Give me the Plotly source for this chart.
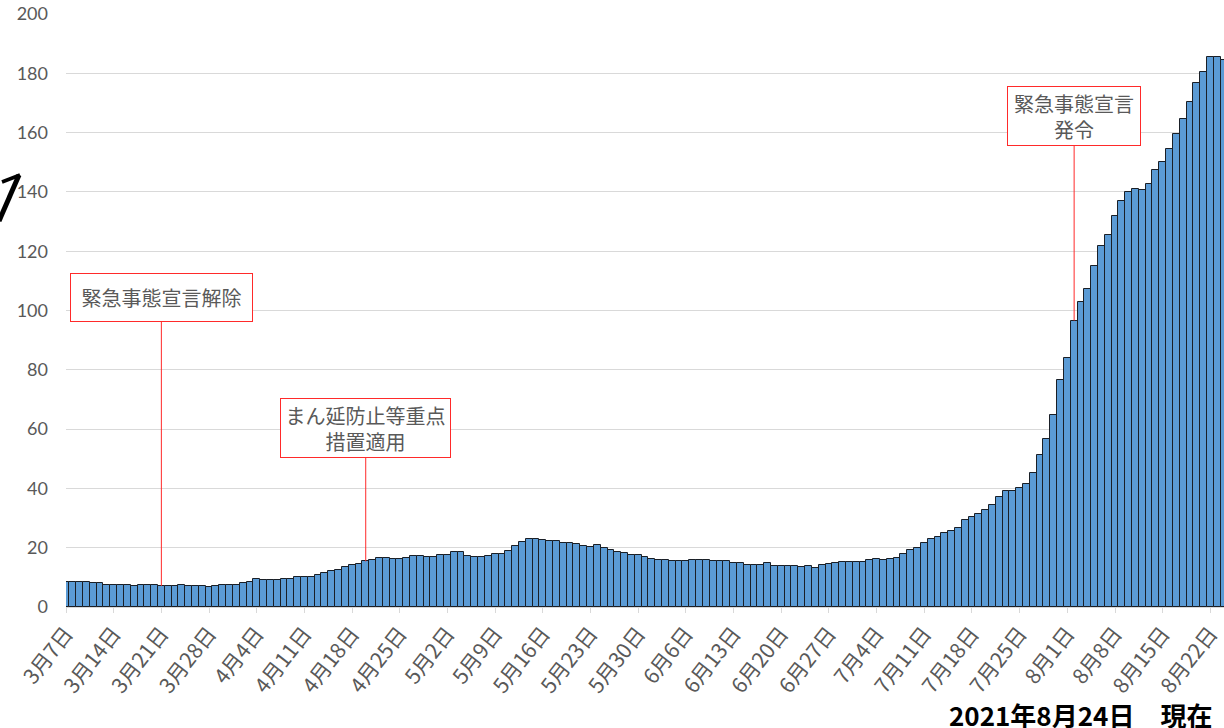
import plotly.graph_objects as go
import pandas as pd

# ---------------- data ----------------
start_date = "2021-03-07"
values = [
    8.3, 8.4, 8.4, 8.4, 8.0, 8.0, 7.5,        # 3/7-
    7.5, 7.5, 7.5, 7.2, 7.5, 7.5, 7.5,        # 3/14-
    7.1, 7.1, 7.1, 7.5, 7.1, 7.1, 7.1,        # 3/21-
    6.7, 7.2, 7.5, 7.5, 7.5, 8.0, 8.4,        # 3/28-
    9.4, 9.0, 9.0, 9.0, 9.4, 9.4, 10.2,       # 4/4-
    10.2, 10.2, 10.7, 11.6, 12.0, 12.4, 13.4, # 4/11-
    14.2, 14.6, 15.4, 15.8, 16.6, 16.6, 16.2, # 4/18-
    16.2, 16.6, 17.2, 17.2, 16.7, 16.7, 17.6, # 4/25-
    17.6, 18.4, 18.4, 17.2, 16.7, 16.7, 17.2, # 5/2-
    18.0, 18.0, 18.9, 20.7, 21.9, 23.1, 23.1, # 5/9-
    22.7, 22.4, 22.4, 21.6, 21.6, 21.1, 20.7, # 5/16-
    20.2, 20.8, 19.8, 19.3, 18.5, 18.1, 17.6, # 5/23-
    17.6, 16.7, 16.3, 15.8, 15.8, 15.4, 15.4, # 5/30-
    15.4, 15.8, 15.8, 15.8, 15.4, 15.4, 15.4, # 6/6-
    14.7, 14.7, 14.3, 14.3, 14.3, 14.7, 13.7, # 6/13-
    13.7, 13.7, 13.7, 13.4, 13.7, 13.3, 14.0, # 6/20-
    14.6, 14.9, 15.3, 15.3, 15.3, 15.3, 15.7, # 6/27-
    16.2, 15.7, 16.2, 16.6, 18.0, 19.3, 19.8, # 7/4-
    21.5, 22.8, 23.7, 24.9, 25.8, 26.7, 29.3, # 7/11-
    30.2, 31.5, 32.8, 34.5, 37.1, 39.2, 39.2, # 7/18-
    40.1, 41.5, 45.3, 51.1, 56.6, 64.9, 76.4, # 7/25-
    84.0, 96.6, 102.7, 107.2, 114.9, 121.7, 125.3,    # 8/1-
    131.9, 137.0, 140.1, 141.0, 140.6, 142.8, 147.5,  # 8/8-
    150.1, 154.6, 159.6, 164.5, 170.3, 176.7, 180.5,  # 8/15-
    185.4, 185.4, 184.6,                              # 8/22-8/24
]
dates = pd.date_range(start_date, periods=len(values), freq="D")

tick_labels = [
    "3月7日", "3月14日", "3月21日", "3月28日", "4月4日", "4月11日", "4月18日",
    "4月25日", "5月2日", "5月9日", "5月16日", "5月23日", "5月30日", "6月6日",
    "6月13日", "6月20日", "6月27日", "7月4日", "7月11日", "7月18日", "7月25日",
    "8月1日", "8月8日", "8月15日", "8月22日",
]
tick_dates = pd.date_range(start_date, periods=len(tick_labels), freq="7D")

y_ticks = [0, 20, 40, 60, 80, 100, 120, 140, 160, 180, 200]

event_dates = ["2021-03-21", "2021-04-20", "2021-08-02"]
event_labels = ["緊急事態宣言解除", "まん延防止等重点<br>措置適用", "緊急事態宣言<br>発令"]

footer_text = "2021年8月24日　現在"

# ---------------- figure ----------------
W, H = 1224, 728
ML, MR, MT, MB = 66, 0, 14, 121
PW, PH = W - ML - MR, H - MT - MB


def px_x(px):
    return (px - ML) / PW


def px_y(py):
    return (H - MB - py) / PH


fig = go.Figure()
fig.add_trace(go.Bar(
    x=dates, y=values,
    marker=dict(color="#5B9BD5", line=dict(color="#1a1f26", width=1)),
    hoverinfo="x+y",
))

# annotation boxes with red leader lines
box_specs = [  # (offset_y of box centre from bar top in px, width, height)
    (-288, 181, 47),
    (-133, 169, 58),
    (-205, 132, 58),
]
val_by_date = {d.strftime("%Y-%m-%d"): v for d, v in zip(dates, values)}
for d, lab, (ay, w, h) in zip(event_dates, event_labels, box_specs):
    fig.add_annotation(
        x=d, y=val_by_date[d], text=lab,
        showarrow=True, arrowhead=0, arrowwidth=1, arrowcolor="#FF2A2A",
        ax=0, ay=ay, standoff=0,
        width=w, height=h, align="center", valign="middle",
        bgcolor="white", bordercolor="#FF2A2A", borderwidth=1, borderpad=0,
        font=dict(family="Noto Sans CJK JP", size=20, color="#595959"),
    )

# footer text
fig.add_annotation(
    xref="paper", yref="paper", x=px_x(1214), y=px_y(714),
    xanchor="right", yanchor="middle", showarrow=False,
    text=f"<b>{footer_text}</b>",
    font=dict(family="Noto Sans CJK JP", size=26, color="black"),
)

# cropped arrow fragment at the left edge ("7"-like stroke)
fig.add_shape(
    type="path", xref="paper", yref="paper",
    path=f"M {px_x(-1)},{px_y(221)} L {px_x(19)},{px_y(175)}",
    line=dict(color="black", width=5),
)
fig.add_shape(
    type="path", xref="paper", yref="paper",
    path=f"M {px_x(2)},{px_y(182)} L {px_x(20)},{px_y(175)}",
    line=dict(color="black", width=3.5),
)

fig.update_layout(
    width=W, height=H,
    margin=dict(l=ML, r=MR, t=MT, b=MB, pad=0, autoexpand=False),
    paper_bgcolor="white", plot_bgcolor="white",
    bargap=0, showlegend=False,
    font=dict(family="Lato, Noto Sans CJK JP", color="#595959"),
)
fig.update_xaxes(
    type="date", automargin=False,
    range=[dates[0], dates[-1]],
    tickmode="array", tickvals=tick_dates, ticktext=tick_labels,
    tickangle=-52,
    tickfont=dict(family="Noto Sans CJK JP", size=21, color="#595959"),
    showgrid=False, showline=True, linecolor="#D9D9D9", linewidth=1,
    ticks="outside", ticklen=5, tickcolor="#D9D9D9",
    zeroline=False,
)
fig.update_yaxes(
    range=[0, 200], tickvals=y_ticks, automargin=False,
    tickfont=dict(family="Lato", size=18, color="#595959"),
    ticklabelstandoff=17,
    showgrid=True, gridcolor="#D9D9D9", gridwidth=1,
    zeroline=False, showline=False, ticks="",
)

fig.write_html(
    "out.html",
    config={"displayModeBar": False},
    post_script="document.body.style.margin='0px';document.body.style.overflow='hidden';",
)
